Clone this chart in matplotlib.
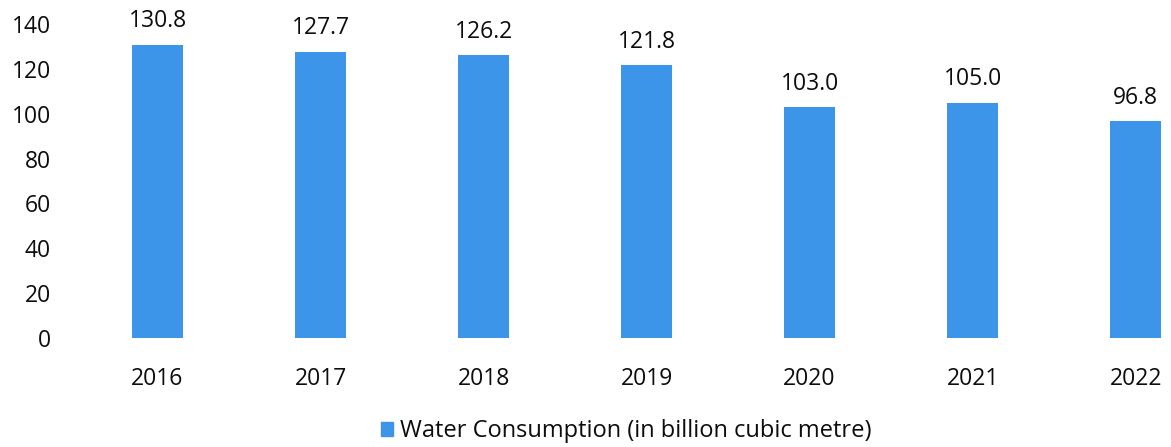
import matplotlib
matplotlib.use("Agg")
import matplotlib.pyplot as plt
import matplotlib.patches as mpatches
import numpy as np

years = ["2016", "2017", "2018", "2019", "2020", "2021", "2022"]
consumption = [130.8, 127.7, 126.2, 121.8, 103.0, 105.0, 96.8]
y_ticks = [0, 20, 40, 60, 80, 100, 120, 140]

BAR_COLOR = "#3d95e9"
TEXT = "#0d0d0d"

plt.rcParams["font.family"] = ["Open Sans", "DejaVu Sans"]

fig = plt.figure(figsize=(11.71, 4.47), dpi=100)
ax = fig.add_axes([76 / 1171, 109 / 447, (1165 - 76) / 1171, 314 / 447])

x = np.arange(len(years))
ax.bar(x, consumption, width=0.31, color=BAR_COLOR)
for xi, v in zip(x, consumption):
    ax.text(xi, v + 5, f"{v:.1f}", ha="center", va="bottom",
            fontsize=16.5, color=TEXT, clip_on=False)

ax.set_xlim(-0.5, 6.18)
ax.set_ylim(0, 140)
ax.set_yticks(y_ticks)
ax.set_xticks(x)
ax.set_xticklabels(years)
ax.tick_params(axis="both", length=0, labelsize=16.5, colors=TEXT)
ax.tick_params(axis="x", pad=21)
ax.tick_params(axis="y", pad=18)
for s in ax.spines.values():
    s.set_visible(False)

handle = mpatches.Patch(color=BAR_COLOR, label="Water Consumption (in billion cubic metre)")
fig.legend(handles=[handle], loc="center", bbox_to_anchor=(0.535, 0.035),
           frameon=False, fontsize=17, handlelength=0.5, handleheight=0.5,
           handletextpad=0.3, labelcolor=TEXT)

fig.savefig("out.png", dpi=100, facecolor="white")
